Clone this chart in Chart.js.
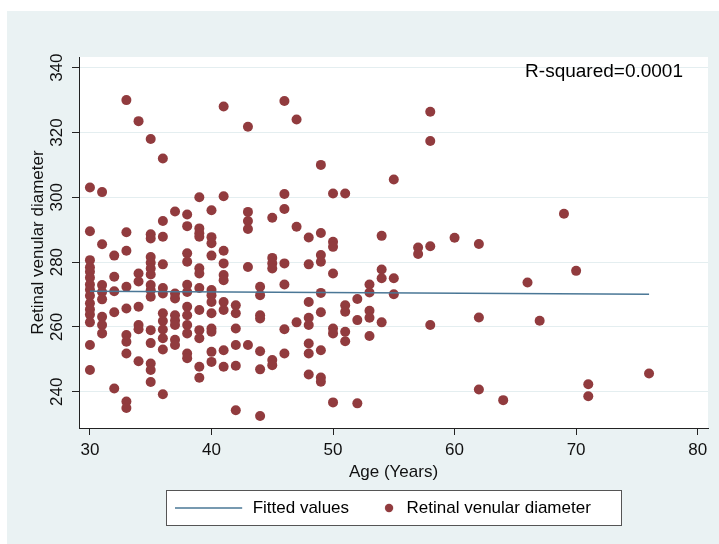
<!DOCTYPE html>
<html>
<head>
<meta charset="utf-8">
<script src="https://cdn.jsdelivr.net/npm/chart.js@4.4.1/dist/chart.umd.min.js"></script>
<style>
html,body{margin:0;padding:0;background:#ffffff;}
#wrap{width:719px;height:544px;position:relative;}
canvas{display:block;}
</style>
</head>
<body>
<div id="wrap"><canvas id="c" width="719" height="544"></canvas></div>
<script>
// ---- data ----
const ageGroups = [30,31,32,33,34,35,36,37,38,39,40,41,42,43,44,45,46,47,48,49,50,51,52,53,54,55,57,58,60,62,64,66,67,69,70,71,76];
const venularByAge = [
  [303, 289.5, 280.6, 278.4, 277, 275.2, 273.1, 271.5, 269.6, 267.3, 265.4, 263.8, 261.4, 254.4, 246.7],
  [301.6, 285.5, 272.9, 270.8, 268.5, 263.1, 260.6, 258],
  [282, 275.5, 271, 264.5, 241],
  [330, 289.2, 283.5, 272.4, 265.7, 257.5, 255.4, 251.8, 237, 235],
  [323.5, 276.5, 274, 266.2, 260.6, 259.3, 249.4],
  [318, 288.6, 287.3, 281.6, 279.8, 278, 276.2, 272.9, 271.3, 269.3, 259, 255, 248.7, 246.7, 243],
  [312, 292.7, 287.8, 279.3, 272, 270.3, 264.2, 261.8, 259.2, 256.5, 253, 239.2],
  [295.6, 270.3, 268.8, 263.6, 262, 260.6, 256, 254.4],
  [294.7, 291.1, 282.7, 280.1, 273, 270.8, 266.2, 263.6, 260.6, 258, 251.8, 250.3],
  [300, 290.4, 288.9, 287.8, 278.1, 276.5, 272, 265.2, 259, 256.5, 247.7, 244.3],
  [296, 287.7, 285.8, 282, 271.4, 269.8, 267.7, 264.2, 259.5, 258.5, 252.3, 249.2],
  [328, 300.3, 283.5, 279.6, 276, 274.4, 267.7, 265.2, 252.8, 247.7],
  [266.7, 264.2, 259.5, 254.4, 248, 234.3],
  [321.8, 295.5, 292.7, 290.2, 278.5, 254.4],
  [272.4, 269.8, 263.6, 262.6, 252.5, 246.9, 232.5],
  [293.7, 281.3, 279.6, 278, 249.8, 248.2],
  [329.7, 301, 296.4, 279.6, 273.1, 259.3, 251.8],
  [324, 290.9, 261.4],
  [287.6, 279.3, 267.7, 262.8, 260.6, 254.9, 251.8, 245.3],
  [310, 289, 282.2, 280.1, 270.5, 264.5, 252.8, 244.4, 243.1],
  [301.2, 286.3, 284.7, 276.5, 259.5, 258, 236.7],
  [301.2, 266.7, 264.7, 258.5, 255.6],
  [268.6, 262.1, 236.4],
  [273.1, 270.6, 265, 262.8, 257.2],
  [288.1, 277.7, 275, 261.4],
  [305.5, 275, 270.1],
  [284.5, 282.5],
  [326.4, 317.4, 284.9, 260.6],
  [287.5],
  [285.6, 262.9, 240.7],
  [237.4],
  [273.7],
  [261.9],
  [294.9],
  [277.3],
  [242.3, 238.6],
  [245.6]
];
const fittedAges = [30, 76];
const fittedValues = [271.0, 270.1];
const xTickValues = [30, 40, 50, 60, 70, 80];
const yTickValues = [240, 260, 280, 300, 320, 340];
const seriesNames = ['Fitted values', 'Retinal venular diameter'];
const xTitle = 'Age (Years)';
const yTitle = 'Retinal venular diameter';
const rSquaredText = 'R-squared=0.0001';

// ---- build tables for the library ----
const scatterPoints = [];
ageGroups.forEach((a, i) => venularByAge[i].forEach(v => scatterPoints.push({x: a, y: v})));
const fitPoints = fittedAges.map((a, i) => ({x: a, y: fittedValues[i]}));

const DOT = '#913b3e';
const LINE = '#4a7796';
const BG = '#eaf2f3';
const FONT = '"Liberation Sans", Arial, Helvetica, sans-serif';
Chart.defaults.font.family = FONT;
Chart.defaults.color = '#111';

// legend sample images
function makeLineSample() {
  const c = document.createElement('canvas');
  c.width = 90; c.height = 4;
  const g = c.getContext('2d');
  g.strokeStyle = LINE; g.lineWidth = 1.5;
  g.beginPath(); g.moveTo(0, 2); g.lineTo(67, 2); g.stroke();
  return c;
}
function makeDotSample() {
  const c = document.createElement('canvas');
  c.width = 40; c.height = 12;
  const g = c.getContext('2d');
  g.fillStyle = DOT;
  g.beginPath(); g.arc(35, 6, 4.2, 0, Math.PI * 2); g.fill();
  return c;
}
const lineSample = makeLineSample();
const dotSample = makeDotSample();

const framePlugin = {
  id: 'frame',
  beforeDraw(chart) {
    const {ctx, chartArea: a, width, height} = chart;
    ctx.save();
    ctx.fillStyle = '#ffffff';
    ctx.fillRect(0, 0, width, height);
    ctx.fillStyle = BG;
    ctx.fillRect(7, 11, width - 7, height - 11);
    ctx.fillStyle = '#ffffff';
    ctx.fillRect(a.left, a.top, a.right - a.left, a.bottom - a.top);
    const lg = chart.legend;
    if (lg) {
      const cx = (a.left + a.right) / 2;
      const bx = Math.round(cx - 227.5) + 0.5;
      const by = Math.round(lg.top - 8.5) + 0.5;
      ctx.fillStyle = '#ffffff';
      ctx.fillRect(bx, by, 455, 35);
      ctx.strokeStyle = '#555';
      ctx.lineWidth = 1;
      ctx.strokeRect(bx, by, 455, 35);
    }
    ctx.restore();
  },
  afterDatasetsDraw(chart) {
    const {ctx, chartArea: a} = chart;
    ctx.save();
    ctx.font = '19px ' + FONT;
    ctx.fillStyle = '#000';
    ctx.textAlign = 'right';
    ctx.textBaseline = 'middle';
    ctx.fillText(rSquaredText, a.right - 25, a.top + 15);
    ctx.restore();
  }
};

new Chart(document.getElementById('c'), {
  type: 'scatter',
  data: {
    datasets: [
      {
        type: 'line',
        label: seriesNames[0],
        data: fitPoints,
        borderColor: LINE,
        borderWidth: 1.5,
        pointRadius: 0,
        fill: false,
        tension: 0
      },
      {
        type: 'scatter',
        label: seriesNames[1],
        data: scatterPoints,
        backgroundColor: DOT,
        borderWidth: 0,
        pointRadius: 5,
        pointHoverRadius: 5
      }
    ]
  },
  options: {
    responsive: false,
    animation: false,
    devicePixelRatio: 1,
    layout: {padding: {left: 20, right: 11, top: 57, bottom: 17.5}},
    plugins: {
      tooltip: {enabled: false},
      legend: {
        position: 'bottom',
        fullSize: false,
        labels: {
          usePointStyle: true,
          pointStyleWidth: 48,
          padding: 1,
          color: '#000',
          font: {size: 17, family: FONT},
          generateLabels() {
            return [
              {text: seriesNames[0], pointStyle: lineSample, datasetIndex: 0, hidden: false, lineWidth: 0, fontColor: '#000'},
              {text: seriesNames[1], pointStyle: dotSample, datasetIndex: 1, hidden: false, lineWidth: 0, fontColor: '#000'}
            ];
          }
        }
      }
    },
    scales: {
      x: {
        type: 'linear',
        min: 29.1,
        max: 80.85,
        afterBuildTicks(scale) { scale.ticks = xTickValues.map(v => ({value: v})); },
        afterFit(scale) { scale.height = 70.5; },
        grid: {drawOnChartArea: false, color: '#222', tickLength: 7, lineWidth: 1},
        border: {display: true, color: '#222', width: 1},
        ticks: {padding: 5, color: '#111', font: {size: 17}},
        title: {display: true, text: xTitle, color: '#111', font: {size: 17}, padding: {top: 0, bottom: 16.3}}
      },
      y: {
        type: 'linear',
        min: 228.8,
        max: 343.3,
        afterBuildTicks(scale) { scale.ticks = yTickValues.map(v => ({value: v})); },
        afterFit(scale) { scale.width = 59; },
        grid: {color: '#e4eef0', tickColor: '#222', tickLength: 7, lineWidth: 1},
        border: {display: true, color: '#222', width: 1},
        ticks: {padding: 1, color: '#111', font: {size: 17}, minRotation: 90, maxRotation: 90, crossAlign: 'center'},
        title: {display: true, text: yTitle, color: '#111', font: {size: 17}, padding: {top: 7.8, bottom: 0}}
      }
    }
  },
  plugins: [framePlugin]
});
</script>
</body>
</html>
